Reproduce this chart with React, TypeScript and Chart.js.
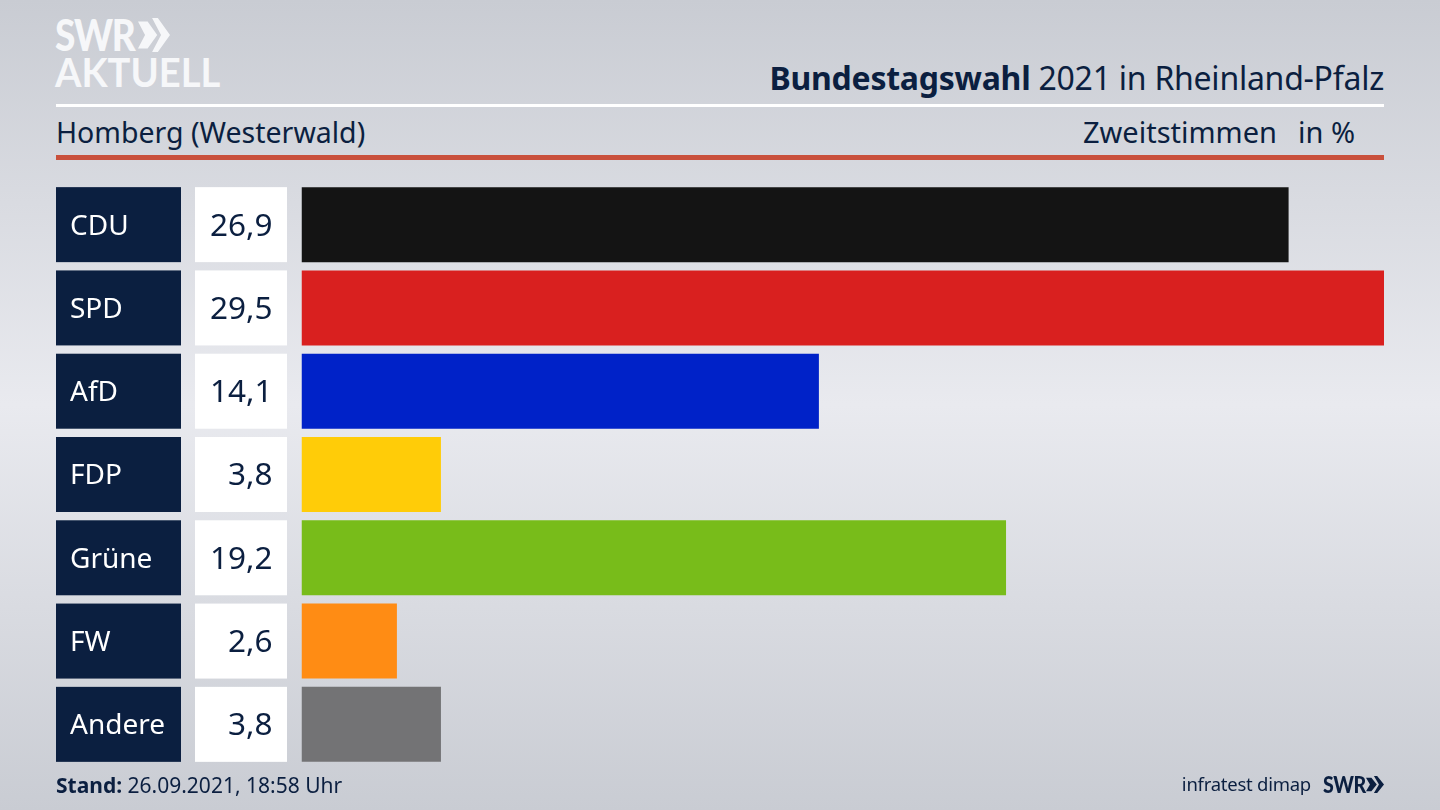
import { useEffect, useRef } from "react"
import { Chart, registerables } from "chart.js"

Chart.register(...registerables)

const parties = ["CDU", "SPD", "AfD", "FDP", "Grüne", "FW", "Andere"]
const shares = [26.9, 29.5, 14.1, 3.8, 19.2, 2.6, 3.8]
const barColors = ["#141414", "#d9201f", "#0022c8", "#ffcc08", "#78bc1a", "#ff8c14", "#737375"]

const NAVY = "#0b1f40"
const FONT = '"Noto Sans", sans-serif'
const LOGO_FONT = 'Lato, sans-serif'

// navy party boxes, white value boxes and their texts left of the bars
const rowBoxes = {
  id: "rowBoxes",
  beforeDraw(chart: Chart) {
    const { ctx, scales } = chart
    const y = scales.y
    const barHeight = 75
    ctx.save()
    shares.forEach((_, i) => {
      const top = y.getPixelForValue(i) - barHeight / 2
      ctx.fillStyle = NAVY
      ctx.fillRect(56, top, 125, barHeight)
      ctx.fillStyle = "#ffffff"
      ctx.fillRect(195, top, 92, barHeight)
    })
    ctx.restore()
  },
  afterDraw(chart: Chart) {
    const { ctx, scales } = chart
    const y = scales.y
    ctx.save()
    ctx.textBaseline = "middle"
    shares.forEach((v, i) => {
      const mid = y.getPixelForValue(i)
      ctx.fillStyle = "#ffffff"
      ctx.font = `28px ${FONT}`
      ctx.textAlign = "left"
      ctx.fillText(parties[i], 70, mid + 2)
      ctx.fillStyle = NAVY
      ctx.font = `31.5px ${FONT}`
      ctx.textAlign = "right"
      ctx.fillText(v.toFixed(1).replace(".", ","), 272.5, mid + 2)
    })
    ctx.restore()
  },
}

function Text({ x, right, top, size, children, color = NAVY, font = FONT, spacing = 0, scaleX = 1 }: any) {
  return (
    <div
      style={{
        position: "absolute",
        left: x,
        right: right,
        top,
        fontSize: size,
        lineHeight: "40px",
        color,
        whiteSpace: "pre",
        fontFamily: font,
        letterSpacing: spacing,
        transform: `scaleX(${scaleX})`,
        transformOrigin: "left center",
      }}
    >
      {children}
    </div>
  )
}

function Chevrons({ x, y, w, h, color }: any) {
  return (
    <svg
      style={{ position: "absolute", left: x, top: y }}
      width={w}
      height={h}
      viewBox="0 0 100 100"
      preserveAspectRatio="none"
    >
      <polygon points="0,10 30,10 60,50 30,90 0,90 22,50" fill={color} />
      <polygon points="44,0 62,0 100,50 62,100 44,100 72,50" fill={color} />
    </svg>
  )
}

export default function App() {
  const chartRef = useRef<HTMLCanvasElement>(null)

  useEffect(() => {
    if (!chartRef.current) return

    const chart = new Chart(chartRef.current, {
      type: "bar",
      data: {
        labels: parties,
        datasets: [
          {
            data: shares,
            backgroundColor: barColors,
            barPercentage: 75 / 83.25,
            categoryPercentage: 1,
          },
        ],
      },
      options: {
        indexAxis: "y",
        responsive: false,
        animation: false,
        layout: { padding: { left: 56, right: 56, top: 183, bottom: 44 } },
        scales: {
          x: { display: false, min: 0, max: 29.5 },
          y: {
            afterFit: (axis: any) => {
              axis.width = 245.5
            },
            border: { display: false },
            grid: { display: false },
            ticks: { display: false },
          },
        },
        plugins: {
          legend: { display: false },
          tooltip: { enabled: false },
        },
      },
      plugins: [rowBoxes],
    })

    return () => chart.destroy()
  }, [])

  return (
    <div
      style={{
        position: "fixed",
        left: 0,
        top: 0,
        width: 1440,
        height: 810,
        overflow: "hidden",
        background: "linear-gradient(180deg, #c9ccd3 0%, #e9eaef 50%, #c9ccd3 100%)",
      }}
    >
      <Text x={55} top={15} size={43} color="#f6f7f9" font={LOGO_FONT} spacing={-1.5} scaleX={0.86}>
        <b style={{ fontWeight: 900 }}>SWR</b>
      </Text>
      <Chevrons x={138} y={18} w={32} h={34} color="#f6f7f9" />
      <Text x={55} top={52} size={41} color="#f6f7f9" font={LOGO_FONT} scaleX={0.93}>
        <b style={{ fontWeight: 700 }}>AKTUELL</b>
      </Text>

      <Text right={56} top={58} size={32} spacing={-0.25}>
        <b>Bundestagswahl</b> 2021 in Rheinland-Pfalz
      </Text>
      <div style={{ position: "absolute", left: 56, top: 104, width: 1328, height: 3, background: "#ffffff" }} />
      <Text x={56} top={112} size={28.5}>
        Homberg (Westerwald)
      </Text>
      <Text right={163} top={112} size={29}>
        Zweitstimmen
      </Text>
      <Text right={85} top={112} size={29}>
        in %
      </Text>
      <div style={{ position: "absolute", left: 56, top: 155, width: 1328, height: 5, background: "#c9503c" }} />

      <canvas
        ref={chartRef}
        width={1440}
        height={810}
        style={{ position: "absolute", left: 0, top: 0 }}
      />

      <Text x={56} top={765} size={21}>
        <b>Stand:</b> 26.09.2021, 18:58 Uhr
      </Text>
      <Text right={129} top={764} size={18.5} spacing={-0.25}>
        infratest dimap
      </Text>
      <Text x={1323} top={764} size={23} font={LOGO_FONT} spacing={-0.5} scaleX={0.85}>
        <b style={{ fontWeight: 900 }}>SWR</b>
      </Text>
      <Chevrons x={1366} y={776} w={18} h={17} color={NAVY} />
    </div>
  )
}
